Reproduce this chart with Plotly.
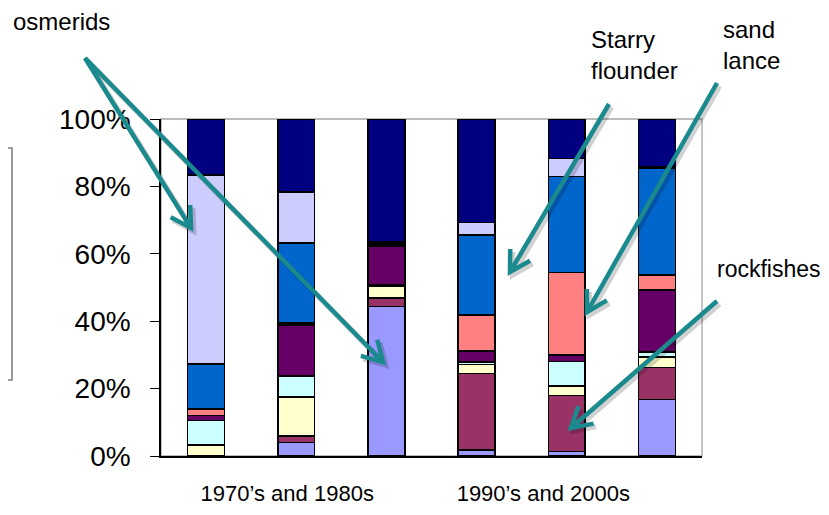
import math
import plotly.graph_objects as go

# ---------------- data ----------------
bar_positions = [0, 1, 2, 3, 4, 5]
series_names = ["Series 1", "Series 2", "Series 3", "Series 4", "Series 5",
                "Series 6", "Series 7", "Series 8", "Series 9"]
s1_periwinkle = [0.0, 4.0, 44.3, 1.8, 1.3, 16.8]
s2_plum = [0.0, 2.0, 2.6, 22.7, 16.6, 9.4]
s3_ivory = [3.2, 11.5, 3.5, 2.7, 2.8, 3.2]
s4_lightcyan = [7.3, 6.3, 0.4, 0.7, 7.4, 1.5]
s5_purple = [1.5, 15.0, 11.3, 3.3, 1.9, 18.3]
s6_coral = [2.0, 0.7, 0.45, 10.6, 24.5, 4.5]
s7_blue = [13.3, 23.7, 0.45, 23.8, 28.4, 31.8]
s8_lavender = [56.1, 15.2, 0.45, 3.7, 5.4, 0.4]
s9_navy = [16.6, 21.6, 36.55, 30.7, 11.7, 14.1]

y_tickvals = [0, 20, 40, 60, 80, 100]
y_ticktext = ["0%", "20%", "40%", "60%", "80%", "100%"]
x_label_positions = [0.9, 3.74]
x_label_text = ["1970\u2019s and 1980s", "1990\u2019s and 2000s"]

series_values = [s1_periwinkle, s2_plum, s3_ivory, s4_lightcyan, s5_purple,
                 s6_coral, s7_blue, s8_lavender, s9_navy]
colors = ["#9999FF", "#993366", "#FFFFCC", "#CCFFFF", "#660066",
          "#FF8080", "#0066CC", "#CCCCFF", "#000080"]

# ---------------- layout geometry (page pixels) ----------------
W, H = 829, 515
OFF = 8  # default body margin of the html page
L, R, T, B = 161, 702, 119, 456
PW, PH = R - L, B - T


def px(x):
    return (x - L) / PW


def py(y):
    return (B - y) / PH


fig = go.Figure()
for name, vals, col in zip(series_names, series_values, colors):
    fig.add_trace(go.Bar(
        x=bar_positions, y=vals, name=name, width=0.41,
        marker=dict(color=col, line=dict(color="#000000", width=1.5)),
    ))

FONT = "Liberation Sans, Arial, sans-serif"
TEAL = "#1A8A8E"

shapes = []
shapes.append(dict(type="rect", xref="paper", yref="paper", x0=0, x1=1, y0=0, y1=1,
                   line=dict(color="#A6A6A6", width=1.3), layer="below"))
shapes.append(dict(type="rect", xref="paper", yref="paper",
                   x0=px(-30), x1=px(12), y0=py(380), y1=py(148),
                   line=dict(color="#808080", width=1.6)))

arrows = [
    ((85, 58), (191, 228)),
    ((85, 58), (383, 362)),
    ((609, 104), (510, 272)),
    ((717, 83), (587, 312)),
    ((717, 301), (571, 428)),
]


def arrow_path(tail, tip, dx=0.0, dy=0.0, head_len=23, head_ang=30):
    tx, ty = tail[0] + dx, tail[1] + dy
    hx, hy = tip[0] + dx, tip[1] + dy
    ang = math.atan2(ty - hy, tx - hx)
    a1 = ang + math.radians(head_ang)
    a2 = ang - math.radians(head_ang)
    p1 = (hx + head_len * math.cos(a1), hy + head_len * math.sin(a1))
    p2 = (hx + head_len * math.cos(a2), hy + head_len * math.sin(a2))
    f = lambda p: f"{px(p[0]):.5f},{py(p[1]):.5f}"
    return (f"M{f((tx, ty))} L{f((hx, hy))} "
            f"M{f(p1)} L{f((hx, hy))} L{f(p2)}")


for tail, tip in arrows:
    shapes.append(dict(type="path", xref="paper", yref="paper",
                       path=arrow_path(tail, tip, 2.5, 3.0),
                       line=dict(color="rgba(0,0,0,0.18)", width=5.5), layer="above"))
for tail, tip in arrows:
    shapes.append(dict(type="path", xref="paper", yref="paper",
                       path=arrow_path(tail, tip),
                       line=dict(color=TEAL, width=4.5), layer="above"))

annotations = [
    dict(text="osmerids", x=px(12), y=py(22), xanchor="left", yanchor="middle", size=24),
    dict(text="Starry<br>flounder", x=px(590), y=py(55), xanchor="left",
         yanchor="middle", align="left", size=24),
    dict(text="sand<br>lance", x=px(722), y=py(45), xanchor="left",
         yanchor="middle", align="left", size=24),
    dict(text="rockfishes", x=px(716), y=py(269), xanchor="left", yanchor="middle",
         size=23),
]
for a in annotations:
    s = a.pop("size")
    a.update(xref="paper", yref="paper", showarrow=False, borderpad=0,
             font=dict(family=FONT, size=s, color="#000000"))

fig.update_layout(
    width=W - OFF, height=H - OFF,
    margin=dict(l=L - OFF, r=W - R, t=T - OFF, b=H - B, pad=0, autoexpand=False),
    paper_bgcolor="#FFFFFF", plot_bgcolor="#FFFFFF",
    barmode="stack", showlegend=False,
    shapes=shapes, annotations=annotations,
    font=dict(family=FONT, color="#000000"),
    xaxis=dict(range=[-0.5, 5.5], tickvals=x_label_positions, ticktext=x_label_text,
               ticks="", showgrid=False, zeroline=False, showline=True, automargin=False,
               linecolor="#000000", linewidth=1.5, ticklabelstandoff=17,
               tickfont=dict(family=FONT, size=22, color="#000000")),
    yaxis=dict(range=[0, 100], tickvals=y_tickvals, ticktext=y_ticktext,
               ticks="outside", ticklen=9, tickwidth=1.3, tickcolor="#000000",
               showgrid=False, zeroline=False, showline=True, automargin=False,
               linecolor="#000000", linewidth=1.5, ticklabelstandoff=14,
               tickfont=dict(family=FONT, size=28, color="#000000")),
)

fig.write_html("out.html")
